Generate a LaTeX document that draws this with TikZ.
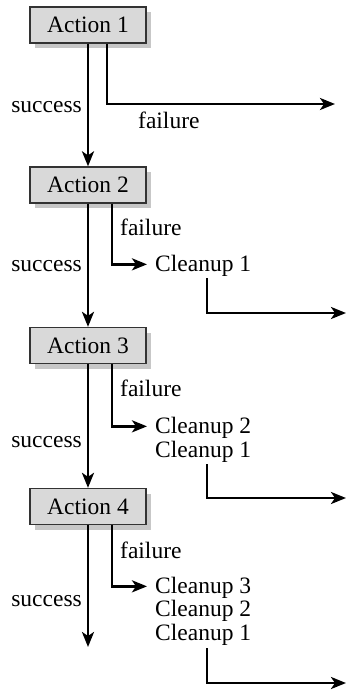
\documentclass[tikz,border=0pt]{standalone}
\usepackage{fontspec}
\setmainfont{Liberation Serif}
\usetikzlibrary{arrows.meta,shadows}
\begin{document}
\begin{tikzpicture}[x=1pt,y=-1pt,
  font=\fontsize{23.5}{27}\selectfont,
  act/.style={draw=black!80, line width=1.3pt, fill=black!15, text=black,
    minimum width=116pt, minimum height=36pt, inner sep=0pt,
    drop shadow={shadow xshift=5pt, shadow yshift=-5pt, fill=black!22, opacity=1}},
  lbl/.style={inner sep=0pt, text=black},
  flow/.style={line width=2.6pt, -{Stealth[length=15pt,width=12pt,inset=4pt]}}]
\useasboundingbox (0,0) rectangle (347,690);

% action boxes
\node[act] (a1) at (88,25) {Action 1};
\node[act] (a2) at (88,185) {Action 2};
\node[act] (a3) at (88,345.5) {Action 3};
\node[act] (a4) at (88,506.5) {Action 4};

% success path
\coordinate (send) at (88,647);
\draw[flow] (a1.south) -- (a2.north);
\draw[flow] (a2.south) -- (a3.north);
\draw[flow] (a3.south) -- (a4.north);
\draw[flow] (a4.south) -- (send);
\node[lbl, anchor=east] (s1) at (82,107) {success};
\node[lbl, anchor=east] (s2) at (82,266) {success};
\node[lbl, anchor=east] (s3) at (82,442) {success};
\node[lbl, anchor=east] (s4) at (82,601) {success};

% failure labels
\node[lbl, anchor=west] (f1) at (138,120) {failure};
\node[lbl, anchor=west] (f2) at (120,227) {failure};
\node[lbl, anchor=west] (f3) at (120,388) {failure};
\node[lbl, anchor=west] (f4) at (120,550) {failure};

% cleanup texts
\node[lbl, anchor=base west] (c21) at (155,271) {Cleanup 1};
\node[lbl, anchor=base west] (c31) at (155,433) {Cleanup 2};
\node[lbl, anchor=base west] (c32) at (155,457) {Cleanup 1};
\node[lbl, anchor=base west] (c41) at (155,593) {Cleanup 3};
\node[lbl, anchor=base west] (c42) at (155,616.5) {Cleanup 2};
\node[lbl, anchor=base west] (c43) at (155,640) {Cleanup 1};

% failure paths
\coordinate (f1end) at (335,104);
\draw[flow] ([xshift=19pt]a1.south) |- (f1end);
\draw[flow] ([xshift=24pt]a2.south) |- ([xshift=-8pt,yshift=1pt]c21.west);
\draw[flow] ([xshift=24pt]a3.south) |- ([xshift=-8pt,yshift=1pt]c31.west);
\draw[flow] ([xshift=24pt]a4.south) |- ([xshift=-8pt,yshift=1pt]c41.west);

% exits after cleanup
\coordinate (e2a) at (207,278); \coordinate (e2b) at (346,313);
\coordinate (e3a) at (207,464); \coordinate (e3b) at (346,498);
\coordinate (e4a) at (207,648); \coordinate (e4b) at (346,683);
\draw[flow] (e2a) |- (e2b);
\draw[flow] (e3a) |- (e3b);
\draw[flow] (e4a) |- (e4b);
\end{tikzpicture}
\end{document}
